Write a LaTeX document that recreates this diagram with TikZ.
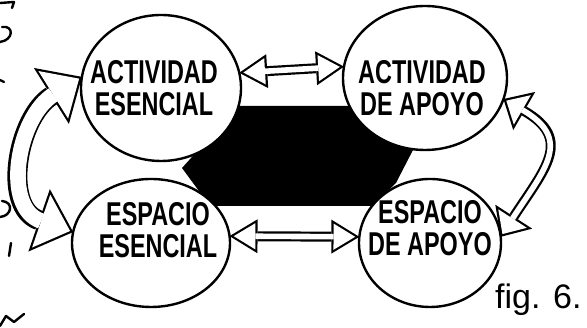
\documentclass[tikz,border=0pt]{standalone}
\usepackage{fontspec}
\newfontfamily\handfont{Liberation Sans}[FakeStretch=0.71]
\newfontfamily\notefont{Liberation Sans}
\usetikzlibrary{arrows.meta}
\usetikzlibrary{shapes}

\begin{document}
\begin{tikzpicture}[x=1pt, y=1pt, line width=2.4pt, line cap=round, line join=round,
    spot/.style={ellipse, draw, fill=white, inner sep=0pt, outer sep=0pt},
    scrawl/.style={font=\handfont\bfseries\fontsize{33}{32}\selectfont, align=center, inner sep=0pt},
    hband/.style={line cap=butt, line width=10pt, {Triangle[length=28pt,width=34pt,line width=0pt]}-{Triangle[length=28pt,width=34pt,line width=0pt]}},
    hcore/.style={white, line cap=butt, line width=5.6pt, shorten <=4.2pt, shorten >=4.2pt, {Triangle[length=21.6pt,width=26.2pt,line width=0pt]}-{Triangle[length=21.6pt,width=26.2pt,line width=0pt]}},
    lband/.style={line cap=butt, line width=20pt, {Triangle[length=36pt,width=66pt,line width=0pt]}-{Triangle[length=36pt,width=66pt,line width=0pt]}},
    lcore/.style={white, line cap=butt, line width=15.6pt, shorten <=3.3pt, shorten >=3.3pt, {Triangle[length=30.5pt,width=56pt,line width=0pt]}-{Triangle[length=30.5pt,width=56pt,line width=0pt]}},
    rband/.style={line cap=butt, line width=10pt, {Triangle[length=24pt,width=44pt,line width=0pt]}-{Triangle[length=24pt,width=44pt,line width=0pt]}},
    rcore/.style={white, line cap=butt, line width=5.6pt, shorten <=3.3pt, shorten >=3.3pt, {Triangle[length=18.5pt,width=34pt,line width=0pt]}-{Triangle[length=18.5pt,width=34pt,line width=0pt]}}]

    \useasboundingbox (0,0) rectangle (587,328);

    % Draw black core between the spots
    \fill (182,160) -- (238,222) -- (352,222) -- (414,180) -- (396,145) -- (372,122) -- (210,122) -- cycle;

    % Draw spots
    \node [spot, minimum width=160pt, minimum height=146pt] (ae) at (161,240) {};
    \node [spot, minimum width=164pt, minimum height=144pt] (aa) at (425,250) {};
    \node [spot, minimum width=158pt, minimum height=128pt] (ee) at (151,85) {};
    \node [spot, minimum width=142pt, minimum height=128pt] (ea) at (430,85) {};

    % Draw texts
    \node [scrawl] (aetext) at (154,240) {ACTIVIDAD\\ESENCIAL};
    \node [scrawl] (aatext) at (422,240) {ACTIVIDAD\\DE APOYO};
    \node [scrawl] (eetext) at (158,98) {ESPACIO\\ESENCIAL};
    \node [scrawl] (eatext) at (430,100) {ESPACIO\\DE APOYO};

    % Draw hollow arrows
    \draw [hband] (ae.11) -- (aa.172);
    \draw [hcore] (ae.11) -- (aa.172);
    \draw [hband] (ee.5) -- (ea.175);
    \draw [hcore] (ee.5) -- (ea.175);
    \draw [lband] (ae.172) to [out=212, in=161, looseness=1.25] (ee.172);
    \draw [lcore] (ae.172) to [out=212, in=161, looseness=1.25] (ee.172);
    \draw [rband] (aa.-15) to [out=-30, in=57, looseness=1.5] (ea.5);
    \draw [rcore] (aa.-15) to [out=-30, in=57, looseness=1.5] (ea.5);

    % Draw caption
    \node [font=\notefont\fontsize{34}{34}\selectfont, anchor=base west, inner sep=0pt] (fig) at (494,19) {fig. 6.};

    % Draw cut marks at the left edge
    \draw (0,325) -- (14,326) -- (12,320);
    \draw (2,301) .. controls (14,303) and (14,288) .. (0,286);
    \draw (0,248) -- (4,246);
    \draw (2,127) .. controls (14,126) and (12,112) .. (0,111);
    \draw (11,85) -- (9,72);
    \draw (0,2) -- (6,12) -- (14,6) -- (24,14);

\end{tikzpicture}
\end{document}
